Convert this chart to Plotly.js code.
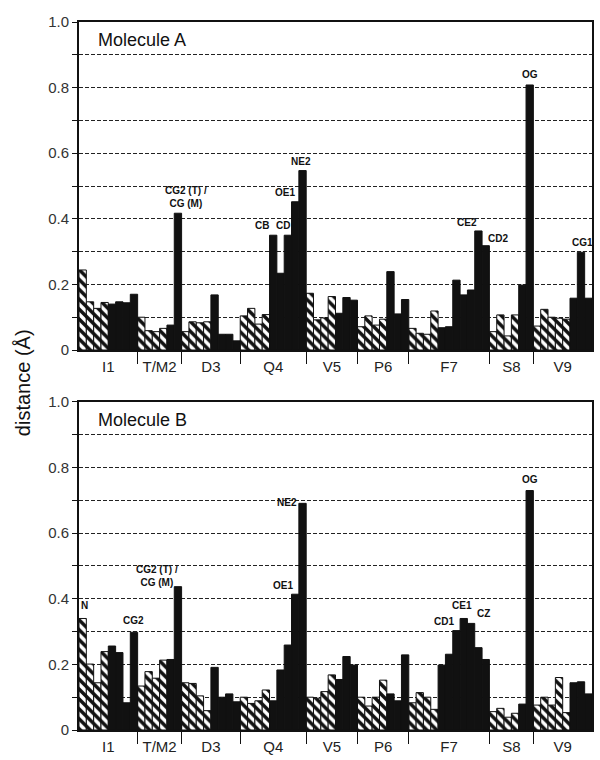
<!DOCTYPE html>
<html>
<head>
<meta charset="utf-8">
<script src="https://cdn.plot.ly/plotly-3.0.1.min.js"></script>
<style>html,body{margin:0;padding:0;background:#fff;}#chart{width:600px;height:760px;}</style>
</head>
<body>
<div id="chart"></div>
<script>
// ---------- DATA ----------
const groups = ['I1', 'T/M2', 'D3', 'Q4', 'V5', 'P6', 'F7', 'S8', 'V9'];
const mainAtoms = [4, 4, 4, 4, 4, 4, 4, 4, 5];   // hatched bars (main chain) per residue
const sideAtoms = [4, 2, 4, 5, 3, 3, 7, 2, 3];   // black bars (side chain) per residue

const molA_main = [0.244, 0.147, 0.127, 0.145,  0.100, 0.059, 0.056, 0.066,  0.056, 0.086, 0.083, 0.086,
                   0.104, 0.127, 0.079, 0.108,  0.173, 0.092, 0.098, 0.163,  0.071, 0.104, 0.076, 0.094,
                   0.066, 0.051, 0.048, 0.119,  0.056, 0.107, 0.043, 0.107,  0.073, 0.124, 0.100, 0.097, 0.094];
const molA_side = [0.140, 0.147, 0.144, 0.170,  0.076, 0.417,  0.168, 0.048, 0.048, 0.028,
                   0.350, 0.234, 0.350, 0.452, 0.547,  0.112, 0.160, 0.152,  0.239, 0.110, 0.154,
                   0.068, 0.071, 0.213, 0.168, 0.183, 0.363, 0.318,  0.198, 0.808,  0.158, 0.298, 0.158];

const molB_main = [0.340, 0.201, 0.144, 0.239,  0.134, 0.178, 0.158, 0.213,  0.144, 0.142, 0.104, 0.059,
                   0.100, 0.081, 0.089, 0.122,  0.100, 0.097, 0.117, 0.168,  0.100, 0.073, 0.100, 0.152,
                   0.083, 0.114, 0.100, 0.063,  0.056, 0.066, 0.039, 0.051,  0.076, 0.100, 0.076, 0.160, 0.053];
const molB_side = [0.256, 0.236, 0.083, 0.298,  0.215, 0.437,  0.191, 0.100, 0.110, 0.086,
                   0.089, 0.183, 0.259, 0.414, 0.691,  0.154, 0.224, 0.198,  0.110, 0.089, 0.229,
                   0.198, 0.231, 0.303, 0.340, 0.325, 0.251, 0.215,  0.079, 0.730,  0.144, 0.147, 0.110];

// atom labels: [residue, chain part, atom index within part, text]
const labelsA = [['T/M2', 'side', 1, 'CG2 (T) /<br>CG (M)'], ['Q4', 'side', 0, 'CB'], ['Q4', 'side', 2, 'CD'],
                 ['Q4', 'side', 3, 'OE1'], ['Q4', 'side', 4, 'NE2'], ['F7', 'side', 5, 'CE2'],
                 ['F7', 'side', 6, 'CD2'], ['S8', 'side', 1, 'OG'], ['V9', 'side', 1, 'CG1']];
const labelsB = [['I1', 'main', 0, 'N'], ['I1', 'side', 3, 'CG2'], ['T/M2', 'side', 1, 'CG2 (T) /<br>CG (M)'],
                 ['Q4', 'side', 3, 'OE1'], ['Q4', 'side', 4, 'NE2'], ['F7', 'side', 2, 'CD1'],
                 ['F7', 'side', 3, 'CE1'], ['F7', 'side', 4, 'CZ'], ['S8', 'side', 1, 'OG']];

const yTicks = [0, 0.1, 0.2, 0.3, 0.4, 0.5, 0.6, 0.7, 0.8, 0.9, 1.0];
const yTickText = ['0', '', '0.2', '', '0.4', '', '0.6', '', '0.8', '', '1.0'];

// ---------- STYLE (label offsets in px) ----------
const shiftA = [[8, 2], [-11, 2], [-5, 2], [-10, 2], [-2, 2], [-11, 1], [12, 0], [0, 3], [1, 2]];
const shiftB = [[2, 5], [0, 4], [-21, -3], [-12, 1], [-16, -7], [-12, 2], [-2, 5], [12, 2], [0, 4]];

// ---------- LAYOUT OF BARS ----------
const mainX = [], sideX = [], groupStart = [], groupEnd = [];
let pos = 0;
groups.forEach((g, i) => {
  groupStart.push(pos);
  for (let k = 0; k < mainAtoms[i]; k++) { mainX.push(pos + 0.5); pos++; }
  for (let k = 0; k < sideAtoms[i]; k++) { sideX.push(pos + 0.5); pos++; }
  groupEnd.push(pos);
});
const total = pos;
const centers = groups.map((g, i) => (groupStart[i] + groupEnd[i]) / 2);
const dividers = groupEnd.slice(0, -1);

function barIndexX(res, part, idx) {
  const gi = groups.indexOf(res);
  let m = 0, s = 0;
  for (let i = 0; i < gi; i++) { m += mainAtoms[i]; s += sideAtoms[i]; }
  return part === 'main' ? [mainX[m + idx], m + idx] : [sideX[s + idx], s + idx];
}

const FONT = 'Liberation Sans, Arial, Helvetica, sans-serif';

function traces(mainVals, sideVals, xa, ya) {
  return [
    { type: 'bar', x: mainX, y: mainVals, width: 1, xaxis: xa, yaxis: ya, showlegend: false, hoverinfo: 'skip',
      marker: { color: '#ffffff', line: { color: '#111', width: 1 },
        pattern: { shape: '\\', size: 7, solidity: 0.5, fgcolor: '#111', bgcolor: '#ffffff', fillmode: 'replace' } } },
    { type: 'bar', x: sideX, y: sideVals, width: 1, xaxis: xa, yaxis: ya, showlegend: false, hoverinfo: 'skip',
      marker: { color: '#111111', line: { color: '#111', width: 1 } } }
  ];
}

function atomLabels(labels, shifts, mainVals, sideVals, xa, ya) {
  return labels.map((l, i) => {
    const [x, k] = barIndexX(l[0], l[1], l[2]);
    const v = l[1] === 'main' ? mainVals[k] : sideVals[k];
    return { x: x, y: v, xref: xa, yref: ya, text: '<b>' + l[3] + '</b>', showarrow: false,
      xanchor: 'center', yanchor: 'bottom', xshift: shifts[i][0], yshift: shifts[i][1],
      font: { family: FONT, size: 10, color: '#111' }, align: 'center' };
  });
}

const data = [].concat(traces(molA_main, molA_side, 'x', 'y'), traces(molB_main, molB_side, 'x2', 'y2'));

function xaxis(anchor) {
  return { range: [0, total], anchor: anchor, showline: true, mirror: true, linecolor: '#111', linewidth: 2,
    tickmode: 'array', tickvals: centers, ticktext: groups, ticks: '', showgrid: false, zeroline: false,
    tickfont: { family: FONT, size: 15, color: '#222' }, ticklabelstandoff: 2,
    minor: { tickmode: 'array', tickvals: dividers, ticks: 'outside', ticklen: 12, tickwidth: 1, tickcolor: '#111', showgrid: false },
    fixedrange: true };
}
function yaxis(anchor, domain) {
  return { range: [0, 1], domain: domain, anchor: anchor, showline: true, mirror: true, linecolor: '#111', linewidth: 2,
    tickmode: 'array', tickvals: yTicks, ticktext: yTickText, ticks: 'outside', ticklen: 5, tickwidth: 1, tickcolor: '#111',
    showgrid: true, gridcolor: '#222', gridwidth: 1, griddash: '4px,2px', zeroline: false,
    tickfont: { family: FONT, size: 15, color: '#333' }, fixedrange: true };
}

const annotations = [].concat(
  atomLabels(labelsA, shiftA, molA_main, molA_side, 'x', 'y'),
  atomLabels(labelsB, shiftB, molB_main, molB_side, 'x2', 'y2'),
  [
    { text: 'Molecule A', xref: 'x domain', yref: 'y domain', x: 0.034, y: 0.945, xanchor: 'left', yanchor: 'middle',
      showarrow: false, font: { family: FONT, size: 18, color: '#111' } },
    { text: 'Molecule B', xref: 'x2 domain', yref: 'y2 domain', x: 0.034, y: 0.945, xanchor: 'left', yanchor: 'middle',
      showarrow: false, font: { family: FONT, size: 18, color: '#111' } },
    { text: 'distance (Å)', xref: 'paper', yref: 'paper', x: -0.109, y: 0.49, textangle: -90,
      xanchor: 'center', yanchor: 'middle', showarrow: false, font: { family: FONT, size: 20, color: '#111' } }
  ]
);

const layout = {
  width: 600, height: 760,
  margin: { l: 79, r: 8, t: 22, b: 30 },
  paper_bgcolor: '#fff', plot_bgcolor: '#fff',
  barmode: 'overlay', bargap: 0,
  font: { family: FONT, color: '#111' },
  xaxis: xaxis('y'), yaxis: yaxis('x', [0.5367, 1]),
  xaxis2: xaxis('y2'), yaxis2: yaxis('x2', [0, 0.4633]),
  annotations: annotations,
  showlegend: false
};

Plotly.newPlot('chart', data, layout, { staticPlot: true, displayModeBar: false });
</script>
</body>
</html>
